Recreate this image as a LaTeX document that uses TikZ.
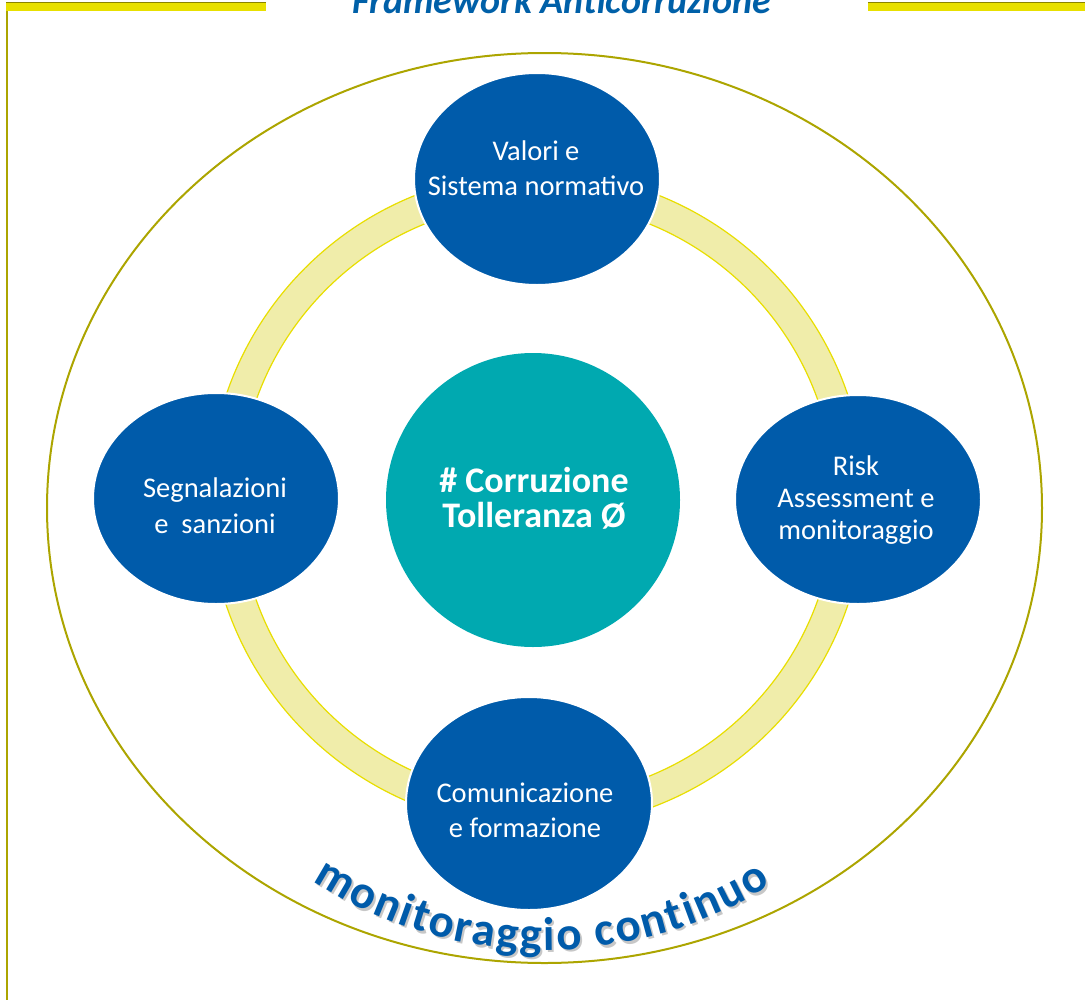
\documentclass[tikz,border=0pt]{standalone}
\usepackage{fontspec}
\setmainfont{Carlito}
\usetikzlibrary{shapes.geometric,decorations.text}
\definecolor{nodeblue}{RGB}{0,91,170}
\definecolor{teal2}{RGB}{0,169,176}
\definecolor{ringfill}{RGB}{240,237,170}
\definecolor{ringedge}{RGB}{232,222,0}
\definecolor{olivel}{RGB}{172,165,0}
\definecolor{barfill}{RGB}{232,224,0}
\definecolor{titleblue}{RGB}{0,96,168}
\tikzset{
  bnode/.style={ellipse, fill=nodeblue, draw=white, line width=2pt, inner sep=0pt},
  cnode/.style={circle, fill=teal2, inner sep=0pt, minimum size=294pt},
  ntext/.style={text=white, align=center, inner sep=0pt,
    font=\fontsize{28.5}{35}\selectfont},
  ctext/.style={text=white, align=center, inner sep=0pt,
    font=\fontsize{36}{35}\selectfont\bfseries},
}
\begin{document}
\begin{tikzpicture}[x=1pt,y=-1pt]
\useasboundingbox (0,0) rectangle (1085,1004);
% frame
\draw[olivel, line width=2.5pt] (7,2) -- (7,1000);
\fill[barfill] (6,2) rectangle (266,11);
\draw[olivel!80!black, line width=1pt] (6,2.5) -- (266,2.5);
\fill[barfill] (868,2) rectangle (1085,11);
\draw[olivel!80!black, line width=1pt] (868,2.5) -- (1085,2.5);
\node[text=titleblue, font=\fontsize{38}{40}\selectfont\bfseries\itshape, anchor=base, inner sep=0pt] (title) at (562,13) {Framework Anticorruzione};
% outer ellipse
\draw[olivel, line width=2pt] (544.5,508) ellipse[x radius=497.5, y radius=455];
% ring
\draw[ringedge, line width=1.2pt, fill=ringfill, even odd rule] (537,500) circle[radius=328] (537,500) circle[radius=298];
% nodes
\node[bnode, minimum width=246pt, minimum height=212pt] (valori) at (537,179) {};
\node[bnode, minimum width=246pt, minimum height=211pt] (segn) at (216,498.5) {};
\node[bnode, minimum width=246pt, minimum height=209pt] (risk) at (858,499.5) {};
\node[bnode, minimum width=246pt, minimum height=213pt] (comu) at (529,803.5) {};
\node[cnode] (core) at (533,500) {};
% texts
\node[ntext] (tvalori) at (536,168) {Valori e\\Sistema normativo};
\node[ntext, font=\fontsize{28.5}{36}\selectfont] (tsegn) at (215,506) {Segnalazioni\\e\ \ sanzioni};
\node[ntext, font=\fontsize{28.5}{32}\selectfont] (trisk) at (856,500) {Risk\\Assessment e\\monitoraggio};
\node[ntext] (tcomu) at (525,810) {Comunicazione\\e formazione};
\node[ctext] (tcore) at (534,498) {\# Corruzione\\Tolleranza Ø};
% curved text with shadow
\path[decorate, decoration={text along path, text align=fit to path,
   text color=black!22,
   text={|\fontsize{47}{47}\selectfont\bfseries|monitoraggio continuo}}]
   (547,525.5) ++(123:427) arc[start angle=123, end angle=58, radius=427];
\path[decorate, decoration={text along path, text align=fit to path,
   text color=nodeblue,
   text={|\fontsize{47}{47}\selectfont\bfseries|monitoraggio continuo}}]
   (545,523) ++(123:427) arc[start angle=123, end angle=58, radius=427];
\end{tikzpicture}
\end{document}
